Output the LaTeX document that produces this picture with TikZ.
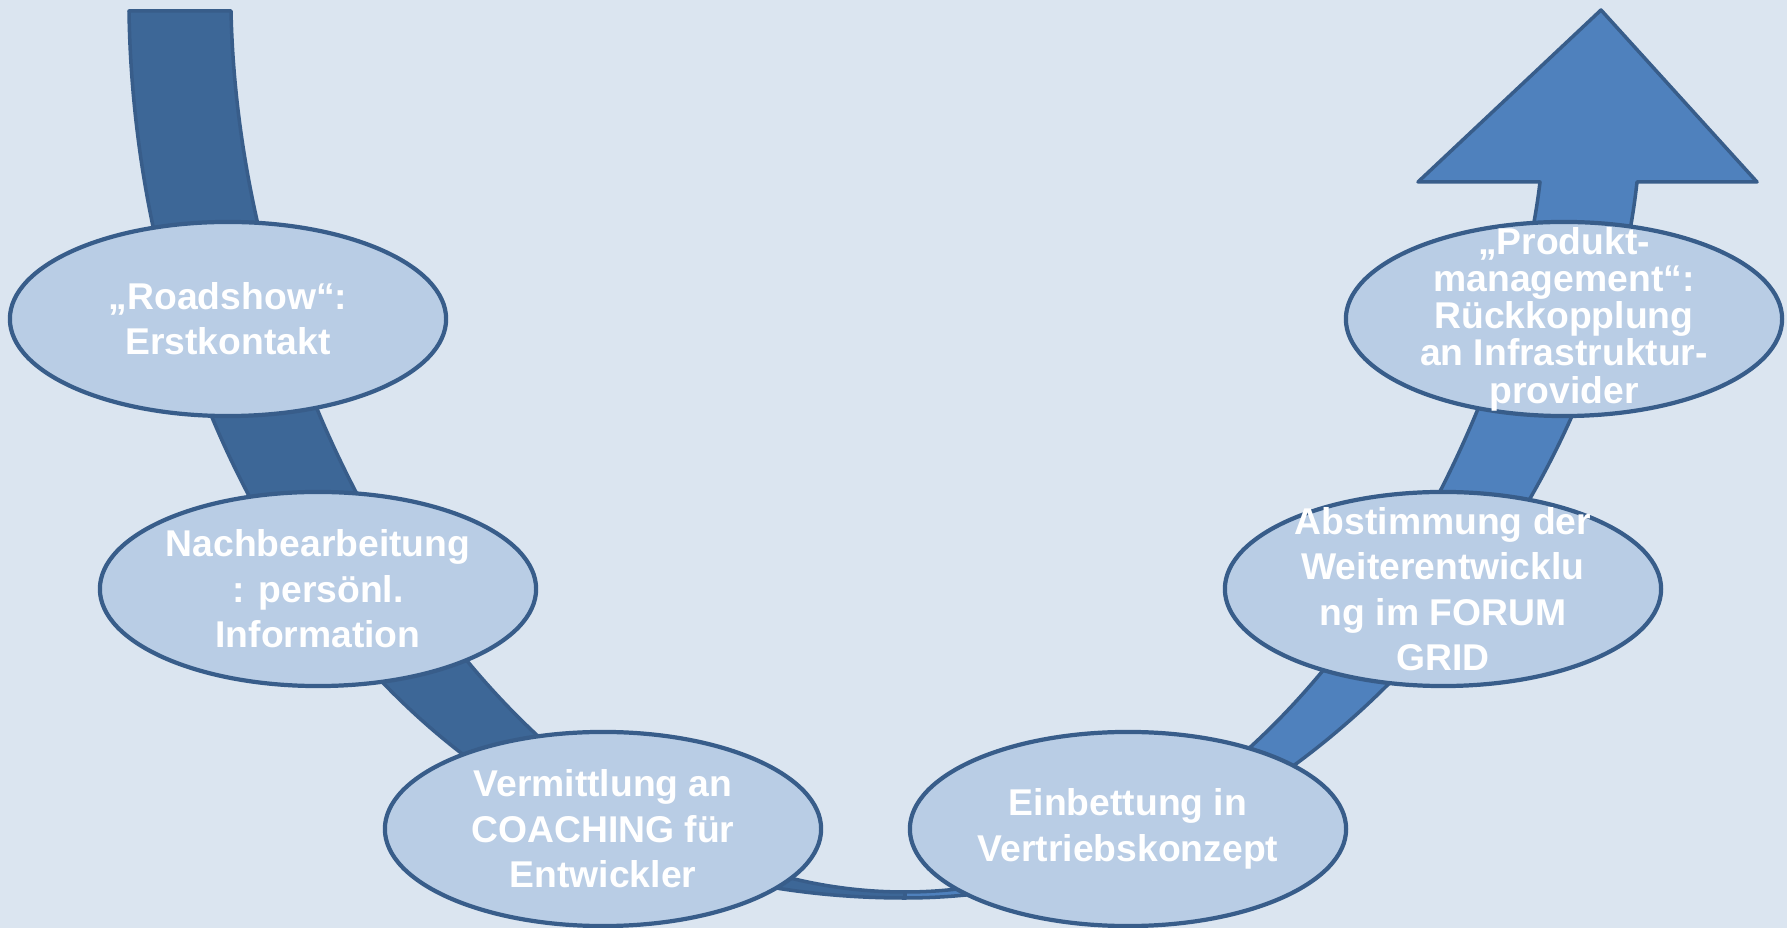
\documentclass[tikz,border=0pt]{standalone}
\usepackage{fontspec}
\setmainfont{Liberation Sans}
\usetikzlibrary{shapes.geometric}
\definecolor{bgblue}{RGB}{219,229,240}
\definecolor{bubblefill}{RGB}{185,205,229}
\definecolor{edgeblue}{RGB}{56,93,138}
\definecolor{darkband}{RGB}{61,103,151}
\definecolor{lightband}{RGB}{79,129,189}

\begin{document}
\begin{tikzpicture}[x=0.01cm, y=-0.01cm,
  band/.style={draw=edgeblue, line width=1pt, line join=round},
  bubble/.style={ellipse, draw=edgeblue, line width=1.2pt, fill=bubblefill,
    minimum width=4.36cm, minimum height=1.94cm, inner xsep=-4pt, inner ysep=-8pt,
    text=white, align=center, font=\bfseries\fontsize{10.6pt}{12.9pt}\selectfont},
  smalltext/.style={font=\bfseries\fontsize{10.6pt}{10.6pt}\selectfont}]
\useasboundingbox (0,0) rectangle (1787,928);
\fill [bgblue] (0,0) rectangle (1787,928);
\draw [band, fill=darkband] (129,11) -- (231,11) .. controls (240,430) and (520,892) .. (905,892)
  -- (905,898) .. controls (380,898) and (135,430) .. (129,11) -- cycle;
\draw [band, fill=lightband] (905,898) -- (905,892) .. controls (1280,892) and (1510,440) .. (1540,182)
  -- (1418,182) -- (1601,10) -- (1757,182) -- (1637,182)
  .. controls (1600,520) and (1300,898) .. (905,898) -- cycle;
\node [bubble] (roadshow) at (228,319) {„Roadshow“:\\Erstkontakt};
\node [bubble] (nachbearb) at (318,589) {Nachbearbeitung\\: persönl.\\Information};
\node [bubble] (vermittl) at (603,829) {Vermittlung an\\COACHING für\\Entwickler};
\node [bubble] (einbett) at (1128,829) {Einbettung in\\Vertriebskonzept};
\node [bubble] (abstimm) at (1443,589) {Abstimmung der\\Weiterentwicklu\\ng im FORUM\\GRID};
\node [bubble, smalltext] (produkt) at (1564,319) {„Produkt-\\management“:\\Rückkopplung\\an Infrastruktur-\\provider};
\end{tikzpicture}
\end{document}
